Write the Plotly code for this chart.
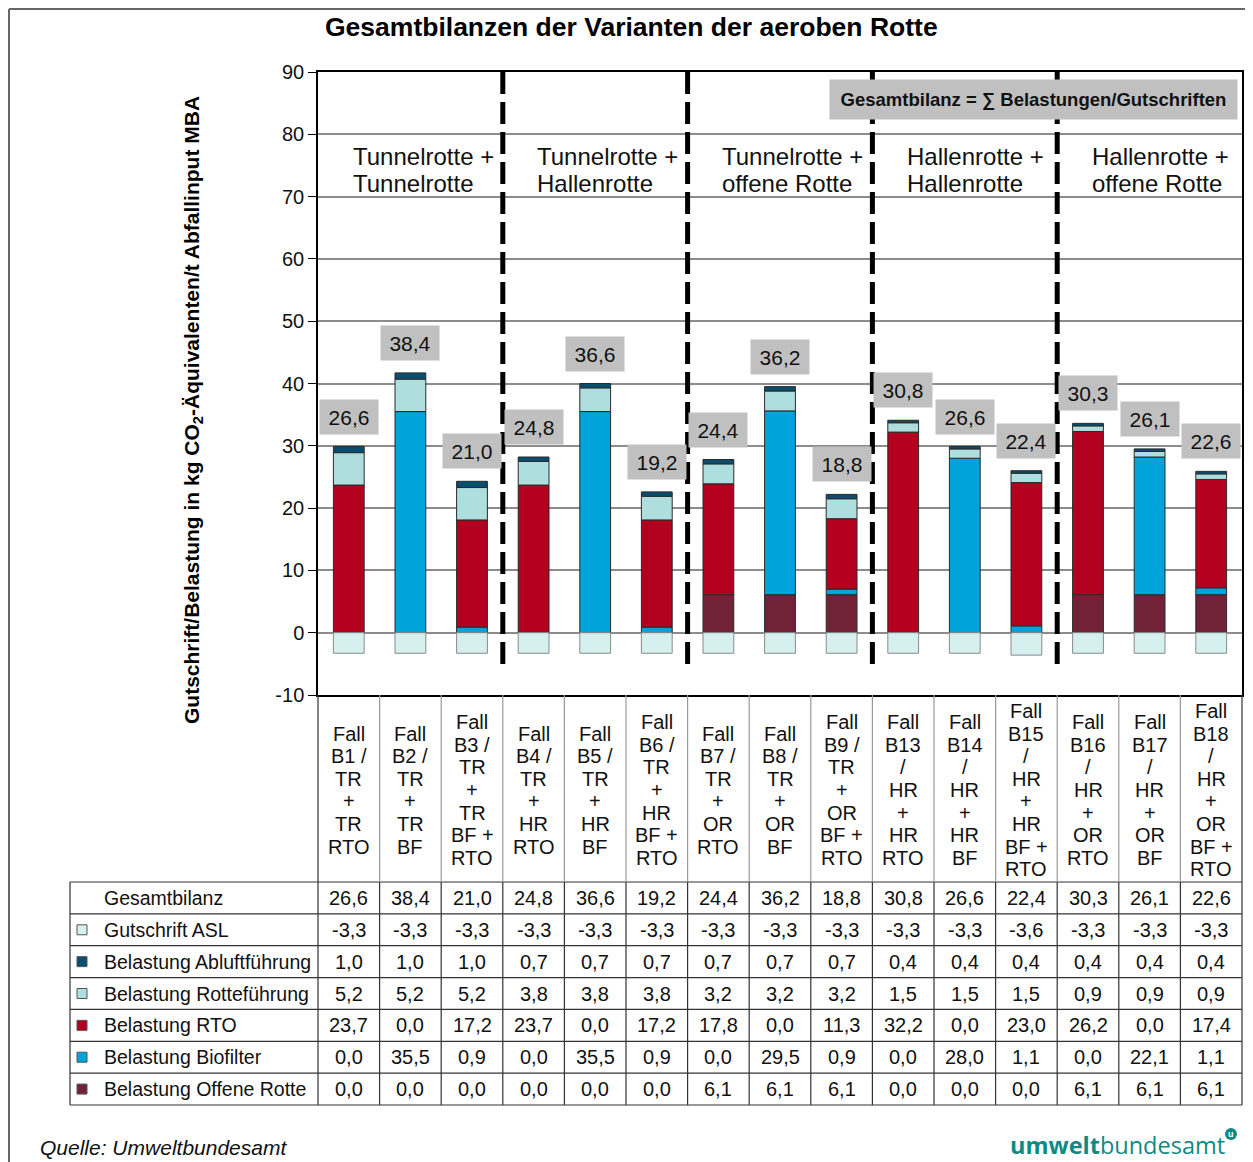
import plotly.graph_objects as go

# ---------------- data ----------------
cases = ["B1", "B2", "B3", "B4", "B5", "B6", "B7", "B8", "B9",
         "B13", "B14", "B15", "B16", "B17", "B18"]
case_labels = [
    ["Fall", "B1 /", "TR", "+", "TR", "RTO"],
    ["Fall", "B2 /", "TR", "+", "TR", "BF"],
    ["Fall", "B3 /", "TR", "+", "TR", "BF +", "RTO"],
    ["Fall", "B4 /", "TR", "+", "HR", "RTO"],
    ["Fall", "B5 /", "TR", "+", "HR", "BF"],
    ["Fall", "B6 /", "TR", "+", "HR", "BF +", "RTO"],
    ["Fall", "B7 /", "TR", "+", "OR", "RTO"],
    ["Fall", "B8 /", "TR", "+", "OR", "BF"],
    ["Fall", "B9 /", "TR", "+", "OR", "BF +", "RTO"],
    ["Fall", "B13", "/", "HR", "+", "HR", "RTO"],
    ["Fall", "B14", "/", "HR", "+", "HR", "BF"],
    ["Fall", "B15", "/", "HR", "+", "HR", "BF +", "RTO"],
    ["Fall", "B16", "/", "HR", "+", "OR", "RTO"],
    ["Fall", "B17", "/", "HR", "+", "OR", "BF"],
    ["Fall", "B18", "/", "HR", "+", "OR", "BF +", "RTO"],
]
group_titles = [["Tunnelrotte +", "Tunnelrotte"], ["Tunnelrotte +", "Hallenrotte"],
                ["Tunnelrotte +", "offene Rotte"], ["Hallenrotte +", "Hallenrotte"],
                ["Hallenrotte +", "offene Rotte"]]
y_tick_values = [-10, 0, 10, 20, 30, 40, 50, 60, 70, 80, 90]
y_tick_labels = ["-10", "0", "10", "20", "30", "40", "50", "60", "70", "80", "90"]

gesamtbilanz = [26.6, 38.4, 21.0, 24.8, 36.6, 19.2, 24.4, 36.2, 18.8, 30.8, 26.6, 22.4, 30.3, 26.1, 22.6]
gutschrift_asl = [-3.3, -3.3, -3.3, -3.3, -3.3, -3.3, -3.3, -3.3, -3.3, -3.3, -3.3, -3.6, -3.3, -3.3, -3.3]
abluftfuehrung = [1.0, 1.0, 1.0, 0.7, 0.7, 0.7, 0.7, 0.7, 0.7, 0.4, 0.4, 0.4, 0.4, 0.4, 0.4]
rottefuehrung = [5.2, 5.2, 5.2, 3.8, 3.8, 3.8, 3.2, 3.2, 3.2, 1.5, 1.5, 1.5, 0.9, 0.9, 0.9]
rto = [23.7, 0.0, 17.2, 23.7, 0.0, 17.2, 17.8, 0.0, 11.3, 32.2, 0.0, 23.0, 26.2, 0.0, 17.4]
biofilter = [0.0, 35.5, 0.9, 0.0, 35.5, 0.9, 0.0, 29.5, 0.9, 0.0, 28.0, 1.1, 0.0, 22.1, 1.1]
offene_rotte = [0.0, 0.0, 0.0, 0.0, 0.0, 0.0, 6.1, 6.1, 6.1, 0.0, 0.0, 0.0, 6.1, 6.1, 6.1]

# ---------------- layout helpers ----------------
# the page body has an 8px margin, so the figure is made 8px smaller
OFF = 8
W, H = 1253 - OFF, 1162 - OFF
ML, MR, MT = 318 - OFF, 11, 72 - OFF
MB = H - (695 - OFF)
PW, PH = W - ML - MR, H - MT - MB


def px(X):  # X in reference-screen pixels
    return (X - OFF - ML) / PW


def py(Y):
    return (H - MB - (Y - OFF)) / PH


FONT = "Liberation Sans, Arial, sans-serif"
fig = go.Figure()
xs = list(range(len(cases)))

stack = [
    ("Belastung Offene Rotte", offene_rotte, "#722236", "#2a2a2a"),
    ("Belastung Biofilter", biofilter, "#00A3DA", "#2a2a2a"),
    ("Belastung RTO", rto, "#B3001F", "#2a2a2a"),
    ("Belastung Rotteführung", rottefuehrung, "#AEDEDE", "#2a2a2a"),
    ("Belastung Abluftführung", abluftfuehrung, "#0B4D6E", "#2a2a2a"),
    ("Gutschrift ASL", gutschrift_asl, "#D6EFEF", "#8a8a8a"),
]
for name, vals, col, lc in stack:
    fig.add_trace(go.Bar(
        x=xs, y=[v if v != 0 else None for v in vals], name=name, width=0.5,
        marker=dict(color=col, line=dict(color=lc, width=1)), showlegend=False,
    ))

annotations = []
shapes = []

# value labels above bars
for i in xs:
    top = offene_rotte[i] + biofilter[i] + rto[i] + rottefuehrung[i] + abluftfuehrung[i]
    annotations.append(dict(
        x=i, y=top + 4.8, xref="x", yref="y", showarrow=False,
        text=f"{gesamtbilanz[i]:.1f}".replace(".", ","),
        font=dict(size=21, color="#111", family=FONT),
        bgcolor="#C0C0C0", width=56, height=32, xanchor="center", yanchor="middle",
    ))

# group titles and dashed separators
for g, lines in enumerate(group_titles):
    for k, t in enumerate(lines):
        annotations.append(dict(
            x=g * 3 - 0.5 + 0.53, y=py(156 + 27 * k), xref="x", yref="paper", showarrow=False,
            text=t, font=dict(size=24, color="#111", family=FONT),
            xanchor="left", yanchor="middle",
        ))
    if g > 0:
        shapes.append(dict(
            type="line", xref="x", yref="y", x0=g * 3 - 0.5, x1=g * 3 - 0.5, y0=90, y1=-5.3,
            line=dict(color="black", width=5, dash="22px,8px"), layer="above",
        ))

# Gesamtbilanz box
annotations.append(dict(
    x=px(1033), y=py(99), xref="paper", yref="paper", showarrow=False,
    text="<b>Gesamtbilanz = ∑ Belastungen/Gutschriften</b>",
    font=dict(size=18.5, color="#111", family=FONT), bgcolor="#C0C0C0",
    width=405, height=37, xanchor="center", yanchor="middle",
))

# title
annotations.append(dict(
    x=px(631), y=py(27), xref="paper", yref="paper", showarrow=False,
    text="<b>Gesamtbilanzen der Varianten der aeroben Rotte</b>",
    font=dict(size=26.5, color="black", family=FONT), xanchor="center", yanchor="middle",
))

# y-axis title
annotations.append(dict(
    x=px(193), y=py(410), xref="paper", yref="paper", showarrow=False, textangle=-90,
    text="<b>Gutschrift/Belastung in kg CO<sub>2</sub>-Äquivalenten/t Abfallinput MBA</b>",
    font=dict(size=21, color="black", family=FONT), xanchor="center", yanchor="middle",
))

# category label cells
line_h = 22.6
for i, lines in enumerate(case_labels):
    n = len(lines)
    for k, t in enumerate(lines):
        yc = 790 + (k - (n - 1) / 2) * line_h
        annotations.append(dict(
            x=i, y=py(yc), xref="x", yref="paper", showarrow=False, text=t,
            font=dict(size=20, color="#111", family=FONT), xanchor="center", yanchor="middle",
        ))

# data table
row_top, row_bot = 882, 1105
rh = (row_bot - row_top) / 7
rows = [
    ("Gesamtbilanz", gesamtbilanz, None),
    ("Gutschrift ASL", gutschrift_asl, "#D6EFEF"),
    ("Belastung Abluftführung", abluftfuehrung, "#0B4D6E"),
    ("Belastung Rotteführung", rottefuehrung, "#AEDEDE"),
    ("Belastung RTO", rto, "#B3001F"),
    ("Belastung Biofilter", biofilter, "#00A3DA"),
    ("Belastung Offene Rotte", offene_rotte, "#722236"),
]
for r, (label, vals, col) in enumerate(rows):
    yc = row_top + rh * (r + 0.5)
    annotations.append(dict(
        x=px(102), y=py(yc), xref="paper", yref="paper", showarrow=False, text=label,
        font=dict(size=19.5, color="#111", family=FONT), xanchor="left", yanchor="middle",
    ))
    if col:
        shapes.append(dict(
            type="rect", xref="paper", yref="paper", x0=px(77), x1=px(87),
            y0=py(yc - 5), y1=py(yc + 5), fillcolor=col, line=dict(color="#555", width=1),
        ))
    for i, v in enumerate(vals):
        annotations.append(dict(
            x=i, y=py(yc), xref="x", yref="paper", showarrow=False,
            text=f"{v:.1f}".replace(".", ","),
            font=dict(size=20, color="#111", family=FONT), xanchor="center", yanchor="middle",
        ))

# table grid
tl, tr = 70, 1242
for r in range(8):
    yy = row_top + rh * r
    shapes.append(dict(type="line", xref="paper", yref="paper", x0=px(tl), x1=px(tr),
                       y0=py(yy), y1=py(yy), line=dict(color="#333", width=1.2)))
shapes.append(dict(type="line", xref="paper", yref="paper", x0=px(tl), x1=px(tl),
                   y0=py(row_top), y1=py(row_bot), line=dict(color="#333", width=1.2)))
colw = PW / len(cases)
for k in range(len(cases) + 1):
    xx = 318 + k * colw
    edge = k in (0, len(cases))
    shapes.append(dict(type="line", xref="paper", yref="paper", x0=px(xx), x1=px(xx),
                       y0=py(695), y1=py(row_top),
                       line=dict(color="#333" if edge else "#9a9a9a", width=1.2)))
    shapes.append(dict(type="line", xref="paper", yref="paper", x0=px(xx), x1=px(xx),
                       y0=py(row_top), y1=py(row_bot), line=dict(color="#333", width=1.2)))

# outer frame
shapes.append(dict(type="line", xref="paper", yref="paper", x0=px(9), x1=px(9),
                   y0=py(9), y1=py(1170), line=dict(color="#666", width=2)))
shapes.append(dict(type="line", xref="paper", yref="paper", x0=px(9), x1=px(1260),
                   y0=py(9), y1=py(9), line=dict(color="#666", width=2)))

# footer
annotations.append(dict(
    x=px(38), y=py(1147), xref="paper", yref="paper", showarrow=False,
    text="<i>Quelle: Umweltbundesamt</i>", font=dict(size=21, color="#111", family=FONT),
    xanchor="left", yanchor="middle",
))
annotations.append(dict(
    x=px(1227), y=py(1145), xref="paper", yref="paper", showarrow=False,
    text="<b>umwelt</b>bundesamt", font=dict(size=23.5, color="#0E8A84", family="Open Sans, sans-serif"),
    xanchor="right", yanchor="middle",
))
shapes.append(dict(type="circle", xref="paper", yref="paper", x0=px(1225), x1=px(1237),
                   y0=py(1128), y1=py(1140), fillcolor="#0E8A84", line=dict(width=0)))
annotations.append(dict(
    x=px(1231), y=py(1134), xref="paper", yref="paper", showarrow=False,
    text="<b>u</b>", font=dict(size=9, color="white", family=FONT),
    xanchor="center", yanchor="middle",
))

fig.update_layout(
    width=W, height=H, barmode="relative",
    margin=dict(l=ML, r=MR, t=MT, b=MB, autoexpand=False),
    paper_bgcolor="white", plot_bgcolor="white",
    font=dict(family=FONT, color="#111"),
    xaxis=dict(range=[-0.5, len(cases) - 0.5], showticklabels=False, showgrid=False,
               zeroline=False, showline=True, mirror=True, linecolor="black", linewidth=1.5,
               ticks=""),
    yaxis=dict(range=[-10, 90], tickvals=y_tick_values, ticktext=y_tick_labels,
               showgrid=True, gridcolor="#8C8C8C",
               gridwidth=1.5, zeroline=False, showline=True, mirror=True, linecolor="black",
               linewidth=1.5, ticks="outside", ticklen=8, tickcolor="black",
               tickfont=dict(size=20, color="#111", family=FONT)),
    annotations=annotations, shapes=shapes, showlegend=False,
)

fig.write_html("out.html")
